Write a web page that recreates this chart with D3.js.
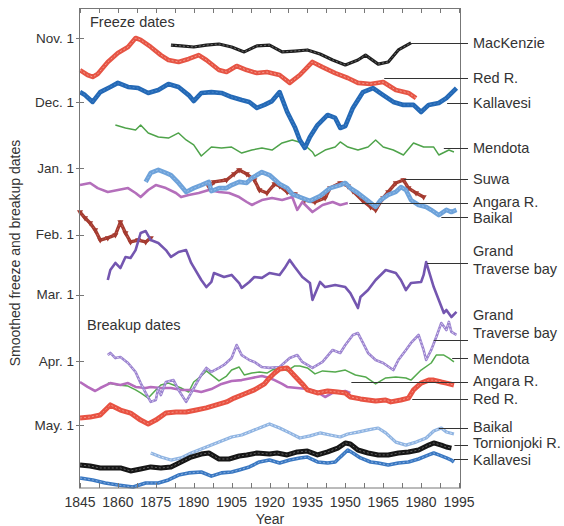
<!DOCTYPE html>
<html><head><meta charset="utf-8">
<script src="https://cdn.jsdelivr.net/npm/d3@7/dist/d3.min.js"></script>
<style>
body{margin:0;background:#fff}
svg{display:block}
text{font-family:"Liberation Sans",Arial,Helvetica,sans-serif;fill:#333}
</style>
</head><body>
<svg id="chart" width="564" height="526"></svg>
<script>
// ---- axis data ----
const yearTicks = [1845,1860,1875,1890,1905,1920,1935,1950,1965,1980,1995];
const minorYearTicks = d3.range(1845, 1996, 7.5);
const monthTicks = [0,30,61,92,120,151,181];          // days after Nov. 1
const monthLabels = ["Nov. 1","Dec. 1","Jan. 1","Feb. 1","Mar. 1","Apr. 1","May. 1"];

// ---- freeze dates (days after Nov. 1) ----
const mackenzieYears = [1881,1885,1890,1895,1900,1905,1910,1915,1920,1925,1930,1935,1940,1945,1950,1955,1958,1963,1967,1971,1976];
const mackenzieDays  = [3.3,3.7,4.2,3.3,2.8,4.2,6.5,3.7,3.3,6.5,6.1,5.6,7.5,10.3,12.6,10.3,8.0,12.2,11.2,5.6,2.3];

const redFreezeYears = [1845,1848,1850,1852,1856,1860,1864,1867,1869,1873,1877,1880,1884,1888,1892,1895,1900,1903,1907,1911,1915,1919,1924,1928,1932,1937,1941,1946,1951,1955,1960,1965,1970,1975,1978];
const redFreezeDays  = [15.0,17.3,18.2,16.8,11.2,7.0,4.2,0,0.9,4.2,8.0,10.3,11.2,9.8,8.0,10.3,15.0,15.9,13.1,15.0,16.4,15.9,17.3,21.0,17.3,11.2,13.6,16.4,18.7,21.0,21.5,20.6,24.3,25.7,28.1];

const kallFreezeYears = [1845,1847,1850,1853,1857,1860,1864,1868,1872,1876,1880,1884,1888,1890,1893,1897,1901,1905,1909,1912,1915,1918,1921,1924,1927,1930,1932,1934,1936,1939,1943,1946,1948,1950,1953,1957,1961,1965,1969,1973,1977,1980,1983,1987,1990,1994];
const kallFreezeDays  = [25.3,26.7,29.9,25.3,22.9,21.0,22.9,23.4,25.7,24.3,21.5,22.9,26.7,29.5,25.7,25.3,25.7,27.6,29.0,29.9,32.7,31.3,29.5,25.3,34.6,41.6,47.7,51.4,46.3,40.7,36.0,37.4,42.1,41.2,32.7,25.3,23.4,26.7,29.9,31.3,31.3,34.6,31.3,30.4,28.1,23.4];

const mendFreezeYears = [1859,1863,1867,1869,1872,1876,1880,1884,1887,1890,1893,1897,1901,1905,1909,1913,1917,1921,1925,1929,1933,1937,1938,1942,1946,1948,1951,1955,1959,1962,1965,1969,1973,1977,1981,1985,1987,1991,1993];
const mendFreezeDays  = [40.7,42.1,43.0,40.7,44.4,46.3,46.8,44.4,47.7,50.0,55.2,51.0,51.4,51.0,53.8,52.4,51.4,52.4,49.1,47.7,49.1,53.3,55.2,52.4,51.0,48.6,51.0,52.4,51.0,47.7,51.0,52.4,54.7,49.1,51.0,51.0,54.7,52.4,53.3];

const angFreezeYears = [1845,1849,1852,1856,1860,1864,1867,1869,1872,1875,1879,1883,1885,1888,1892,1896,1900,1904,1908,1911,1913,1917,1921,1925,1929,1931,1933,1937,1941,1945,1948,1951];
const angFreezeDays  = [68.8,67.8,70.2,72.0,71.1,70.2,72.5,74.4,71.1,68.8,70.2,72.5,74.4,73.4,72.5,71.1,72.0,72.5,74.4,76.7,78.1,75.8,74.8,75.8,74.4,80.4,76.7,81.4,78.1,76.7,78.1,77.2];

const suwaYears = [1845,1847,1849,1851,1853,1856,1859,1861,1863,1865,1868,1871,1873,1885,1896,1898,1903,1906,1908,1911,1914,1916,1919,1922,1924,1927,1930,1934,1938,1942,1944,1948,1951,1953,1957,1960,1962,1965,1967,1970,1973,1975,1978,1981];
const suwaDays  = [81.4,84.2,86.5,89.8,94.5,93.5,92.1,86.1,91.2,95.4,94.5,95.4,93.5,null,69.7,67.3,66.4,63.6,61.7,63.6,66.4,71.1,72.5,68.3,69.2,72.0,73.0,75.8,76.7,74.8,70.2,67.8,69.2,71.6,76.2,79.0,80.4,74.8,72.0,67.8,66.4,70.2,72.5,74.4];

const baikFreezeYears = [1871,1873,1876,1879,1881,1884,1887,1890,1893,1896,1897,1900,1903,1905,1908,1911,1913,1917,1920,1924,1927,1929,1932,1936,1940,1944,1948,1950,1952,1955,1959,1962,1964,1967,1970,1972,1974,1976,1979,1982,1984,1987,1990,1992,1994];
const baikFreezeDays  = [67.3,63.1,61.7,63.1,64.1,67.8,72.0,70.2,68.8,67.3,71.6,70.2,70.2,68.8,67.3,67.8,65.5,62.7,64.1,68.3,70.2,73.0,74.4,76.2,73.9,70.2,68.8,67.8,70.2,72.5,76.2,79.0,75.8,73.4,72.0,69.7,71.1,75.8,78.1,79.0,80.4,82.8,80.4,81.4,80.4];

const gtbFreezeYears = [1856,1857,1859,1861,1863,1865,1867,1869,1871,1873,1876,1879,1881,1884,1887,1889,1893,1895,1897,1898,1902,1905,1908,1909,1912,1914,1917,1920,1924,1926,1928,1930,1933,1936,1937,1940,1942,1946,1950,1952,1954,1955,1956,1959,1962,1966,1970,1972,1974,1976,1980,1981,1982,1985,1987,1989,1990,1992,1994];
const gtbFreezeDays  = [113.2,108.5,105.2,107.6,102.4,102.9,99.2,91.2,90.3,94.5,95.9,99.2,102.4,100.1,99.2,105.2,113.2,116.5,114.1,109.9,111.8,110.8,114.6,116.9,114.1,111.8,112.2,109.9,110.8,107.6,103.8,107.1,111.8,114.6,122.5,114.1,116.5,115.5,116.5,119.3,123.9,126.3,121.1,117.9,113.2,108.5,109.9,113.2,117.9,114.6,114.1,110.8,104.8,116.5,122.5,128.6,127.2,130.5,128.1];

// ---- breakup dates (days after Nov. 1) ----
const gtbBreakYears = [1856,1857,1859,1861,1864,1867,1869,1871,1873,1875,1876,1877,1879,1882,1884,1887,1889,1893,1895,1897,1900,1902,1905,1907,1909,1912,1914,1917,1920,1924,1928,1931,1933,1937,1941,1945,1948,1950,1953,1955,1957,1959,1962,1965,1969,1971,1974,1976,1979,1981,1982,1984,1986,1988,1990,1991,1992,1994];
const gtbBreakDays  = [148.3,147.3,149.7,149.2,152.0,156.2,161.4,166.0,170.2,169.3,163.7,167.0,160.9,160.0,164.6,170.2,166.0,157.6,154.3,156.2,154.3,152.9,149.7,143.6,148.3,150.6,151.5,153.9,154.3,153.9,149.7,148.3,151.5,154.3,151.5,145.9,147.3,143.6,138.9,138.0,142.6,147.3,150.6,152.0,155.3,150.6,145.9,142.6,138.9,145.9,150.6,145.9,139.8,133.3,136.6,132.8,137.5,138.9];

const mendBreakYears = [1856,1860,1864,1867,1869,1872,1875,1877,1880,1882,1885,1888,1890,1893,1895,1898,1900,1903,1905,1908,1910,1913,1916,1919,1921,1924,1927,1930,1932,1935,1938,1941,1946,1950,1954,1958,1962,1966,1970,1974,1976,1980,1984,1986,1989,1991,1993];
const mendBreakDays  = [161.4,162.3,162.8,164.6,166.0,168.4,164.6,162.3,161.4,162.3,163.7,165.6,160.9,158.1,155.7,158.5,160.4,158.1,155.3,153.9,157.6,156.7,156.2,156.7,155.3,154.3,155.7,153.4,153.4,154.3,157.1,155.7,156.2,155.3,157.6,158.5,161.8,159.0,158.5,159.0,160.0,155.3,152.0,148.3,148.3,149.7,151.5];

const angBreakYears = [1845,1848,1851,1853,1857,1861,1864,1867,1871,1873,1877,1881,1885,1889,1893,1897,1901,1905,1909,1913,1917,1920,1922,1925,1927,1931,1935,1939,1942,1945,1947,1950,1952];
const angBreakDays  = [160.9,163.2,165.1,163.7,161.4,162.3,161.4,163.2,163.7,163.2,163.7,163.7,164.6,164.6,165.6,164.2,161.8,160.4,160.0,159.0,158.1,159.0,160.0,161.8,163.2,163.7,164.2,165.6,167.9,166.0,165.6,165.1,166.0];

const redBreakYears = [1845,1849,1853,1857,1861,1865,1869,1872,1875,1879,1883,1887,1891,1895,1899,1903,1906,1910,1914,1918,1920,1922,1924,1927,1930,1933,1935,1939,1943,1947,1950,1952,1956,1962,1966,1968,1972,1975,1977,1980,1983,1985,1988,1990,1993];
const redBreakDays  = [177.7,177.3,176.3,171.6,174.0,175.4,178.7,180.5,178.7,175.4,174.9,174.9,174.0,173.0,171.6,170.2,168.4,166.5,164.6,161.8,159.0,156.7,154.8,154.3,158.1,161.8,164.6,166.0,165.1,165.6,166.0,167.9,168.8,169.8,169.3,170.2,169.3,168.4,164.6,161.4,160.0,160.0,160.9,161.4,162.3];

const baikBreakYears = [1873,1877,1881,1885,1889,1893,1897,1901,1905,1909,1913,1917,1920,1924,1928,1932,1936,1940,1944,1948,1951,1955,1959,1963,1966,1970,1974,1978,1982,1985,1988,1990,1993];
const baikBreakDays  = [194.1,196.0,197.4,196.4,194.1,192.2,190.4,188.5,186.6,185.7,183.8,181.9,180.5,182.4,184.7,187.1,186.1,184.7,185.7,186.6,185.2,184.3,183.3,182.4,184.7,189.0,190.4,189.0,187.1,183.8,182.4,184.3,185.2];

const tornYears = [1845,1849,1853,1857,1861,1865,1869,1873,1877,1881,1885,1889,1893,1896,1900,1904,1908,1911,1915,1920,1923,1927,1931,1935,1939,1943,1947,1950,1952,1955,1959,1963,1967,1971,1975,1979,1983,1985,1988,1990,1992];
const tornDays  = [199.7,200.2,201.1,201.1,201.1,202.5,201.6,200.6,201.1,200.6,198.3,196.0,194.6,194.1,196.9,196.9,195.5,195.0,194.1,194.6,194.1,195.0,193.6,193.2,195.0,193.6,191.8,189.4,189.9,192.7,194.1,195.0,195.0,194.1,193.6,192.7,190.4,189.4,190.4,191.3,191.8];

const kallBreakYears = [1845,1850,1855,1860,1866,1871,1876,1880,1884,1888,1893,1897,1901,1905,1908,1912,1916,1920,1924,1928,1932,1935,1939,1943,1946,1948,1951,1953,1956,1960,1963,1967,1971,1975,1979,1983,1985,1987,1990,1992,1993];
const kallBreakDays  = [205.8,206.7,208.1,209.1,210.0,208.1,208.1,206.7,204.4,203.4,203.0,204.9,203.4,203.0,202.0,200.6,198.3,197.4,198.8,197.4,196.4,196.0,198.3,198.8,198.3,196.0,192.7,194.1,196.4,198.3,198.8,199.7,198.8,198.3,196.9,195.0,194.1,195.0,196.4,197.4,198.3];

// ---- right-hand labels: text lines, leader level (days), leader start year, text level (days) ----
const labelNames  = [["MacKenzie"],["Red R."],["Kallavesi"],["Mendota"],["Suwa"],["Angara R."],["Baikal"],["Grand","Traverse bay"],
                     ["Grand","Traverse bay"],["Mendota"],["Angara R."],["Red R."],["Baikal"],["Tornionjoki R."],["Kallavesi"]];
const labelLevels = [2.3,18.7,30.4,51.4,65.9,77.2,83.7,105.2, 141.2,149.7,160.9,168.8,182.4,190.4,196.9];
const labelFrom   = [1975.3,1965.4,1990.3,1989,1973.3,1951.6,1988,1982.4, 1985,1992.3,1952.4,1976.5,1987,1993.2,1993];
const labelTextLevels = [2.3,18.7,30.4,51.4,65.9,76.5,84.2,103.8, 133.9,149.9,160.6,168.6,182.1,189.6,197.3];

// ---- build ----
const svg = d3.select("#chart");
const x = d3.scaleLinear().domain([1845,1995]).range([80,459]);
const y = d3.scaleLinear().domain([0,181]).range([38,425]);
const plotTop = 8, plotBottom = 488, plotLeft = 79.5, plotRight = 460.5;

const series = [
  {yr: mendFreezeYears, v: mendFreezeDays, c:"#4ea34a", w:1.5},
  {yr: angFreezeYears, v: angFreezeDays, c:"#b46fbb", w:2.6},
  {yr: suwaYears, v: suwaDays, c:"#a43a2f", w:3.4, inner:"#c8685c", marker:"tri"},
  {yr: baikFreezeYears, v: baikFreezeDays, c:"#6da2da", w:4.6, inner:"#9cc0e8"},
  {yr: gtbFreezeYears, v: gtbFreezeDays, c:"#7456b0", w:2.6},
  {yr: mackenzieYears, v: mackenzieDays, c:"#1e1e1e", w:3.2, inner:"#777"},
  {yr: redFreezeYears, v: redFreezeDays, c:"#e65444", w:4.6, inner:"#f4a496"},
  {yr: kallFreezeYears, v: kallFreezeDays, c:"#2469b6", w:4.6, inner:"#4a88cc"},
  {yr: mendBreakYears, v: mendBreakDays, c:"#55aa4e", w:1.5},
  {yr: angBreakYears, v: angBreakDays, c:"#b56cbd", w:2.6},
  {yr: gtbBreakYears, v: gtbBreakDays, c:"#9a82cf", w:2.6, inner:"#e2d8f3"},
  {yr: redBreakYears, v: redBreakDays, c:"#e85242", w:5, inner:"#f3988a"},
  {yr: baikBreakYears, v: baikBreakDays, c:"#8fb4e2", w:3.2, inner:"#dce8f7"},
  {yr: kallBreakYears, v: kallBreakDays, c:"#3a78c2", w:3.6, inner:"#8db3e2"},
  {yr: tornYears, v: tornDays, c:"#161616", w:5, inner:"#6a6a6a"}
];

const line = d3.line().defined(d => d[1] != null).x(d => x(d[0])).y(d => y(d[1]));
const tri = d3.symbol().type(d3.symbolTriangle).size(16);

const g = svg.append("g");
series.forEach(s => {
  const pts = s.yr.map((yr,i) => [yr, s.v[i]]);
  g.append("path").attr("d", line(pts)).attr("fill","none")
    .attr("stroke", s.c).attr("stroke-width", s.w).attr("stroke-linejoin","round");
  if (s.inner) {
    g.append("path").attr("d", line(pts)).attr("fill","none")
      .attr("stroke", s.inner).attr("stroke-width", 0.9).attr("stroke-dasharray","2,2");
  }
  if (s.marker === "tri") {
    g.selectAll(null).data(pts.filter(p => p[1] != null)).enter().append("path")
      .attr("d", tri).attr("transform", p => `translate(${x(p[0])},${y(p[1])}) rotate(180)`)
      .attr("fill", s.c);
  }
});

// frame
svg.append("rect").attr("x",plotLeft).attr("y",plotTop+0.5).attr("width",plotRight-plotLeft).attr("height",plotBottom-plotTop-0.5)
  .attr("fill","none").attr("stroke","#777").attr("stroke-width",1);

// x ticks (top and bottom, inward)
minorYearTicks.forEach(t => {
  const xx = Math.round(x(t)) + 0.5;
  svg.append("line").attr("x1",xx).attr("x2",xx).attr("y1",plotTop).attr("y2",plotTop+5).attr("stroke","#777");
  svg.append("line").attr("x1",xx).attr("x2",xx).attr("y1",plotBottom-5).attr("y2",plotBottom).attr("stroke","#777");
});
yearTicks.forEach(t => {
  svg.append("text").attr("x", x(t)).attr("y", 506.5).attr("text-anchor","middle")
    .attr("font-size","14px").text(t);
});
// y ticks
monthTicks.forEach((t,i) => {
  const yy = Math.round(y(t)) + 0.5;
  svg.append("line").attr("x1",76).attr("x2",84).attr("y1",yy).attr("y2",yy).attr("stroke","#777");
  svg.append("text").attr("x",74).attr("y",y(t)).attr("dy","0.35em").attr("text-anchor","end")
    .attr("font-size","13.5px").text(monthLabels[i]);
});

// titles
svg.append("text").attr("x",270).attr("y",523.5).attr("text-anchor","middle").attr("font-size","14px").text("Year");
svg.append("text").attr("transform","translate(20,253) rotate(-90)").attr("text-anchor","middle")
  .attr("font-size","14px").text("Smoothed freeze and breakup dates");
svg.append("text").attr("x",90).attr("y",27).attr("font-size","14.5px").text("Freeze dates");
svg.append("text").attr("x",87).attr("y",330).attr("font-size","14.5px").text("Breakup dates");

// labels & leaders
labelNames.forEach((lines,i) => {
  const ly = Math.round(y(labelLevels[i])) + 0.5;
  svg.append("line").attr("x1", x(labelFrom[i])).attr("x2", 468).attr("y1", ly).attr("y2", ly)
    .attr("stroke","#333").attr("stroke-width",1);
  const t = svg.append("text").attr("x",473).attr("font-size","14.5px");
  const ty = y(labelTextLevels[i]);
  if (lines.length === 1) {
    t.attr("y", ty).attr("dy","0.35em").text(lines[0]);
  } else {
    t.attr("y", ty).attr("dy","0.35em");
    lines.forEach((ln,k) => t.append("tspan").attr("x",473).attr("dy", k === 0 ? "-0.3em" : "1.25em").text(ln));
  }
});
</script>
</body></html>
